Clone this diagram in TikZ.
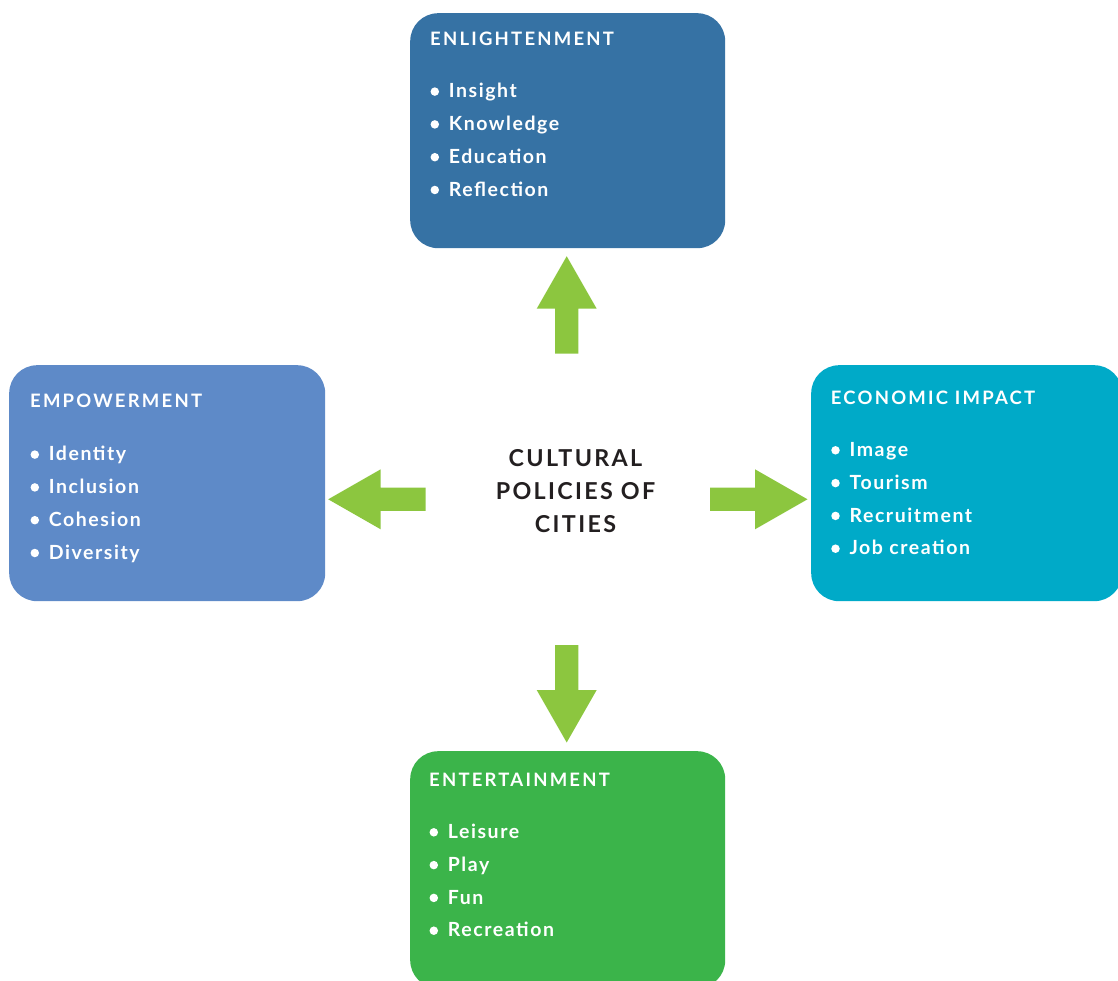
\documentclass[tikz,border=0pt]{standalone}
\usepackage{fontspec}
\setmainfont{Lato}
\newfontfamily\titlefont{Lato}[LetterSpace=12]
\newfontfamily\itemfont{Lato}[LetterSpace=8]
\newfontfamily\hubfont{Lato}[LetterSpace=10]

\definecolor{enlight}{HTML}{3672A4}
\definecolor{empower}{HTML}{5E8AC8}
\definecolor{econ}{HTML}{00AAC8}
\definecolor{entertain}{HTML}{3BB44A}
\definecolor{arrowgreen}{HTML}{8CC63F}
\definecolor{hubtext}{HTML}{231F20}

\tikzset{
  panel/.style={rectangle, rounded corners=28pt, anchor=north west, inner sep=0pt},
  head/.style={anchor=base west, inner sep=0pt, text=white,
    font=\titlefont\bfseries\fontsize{18.5}{20}\selectfont},
  entry/.style={anchor=base west, inner sep=0pt, text=white,
    font=\itemfont\bfseries\fontsize{19.5}{21}\selectfont},
  dot/.style={circle, fill=white, minimum size=8.5pt, inner sep=0pt},
  hub/.style={align=center, inner sep=0pt, text=hubtext,
    font=\hubfont\bfseries\fontsize{23.3}{33}\selectfont},
  fatarrow/.pic={
    \fill[arrowgreen] (0,-11.6) -- (45,-11.6) -- (45,-30) -- (97.5,0)
      -- (45,30) -- (45,11.6) -- (0,11.6) -- cycle;
  }
}

% one panel's heading and bullet list; #1 prefix, #2 left x, #3 heading baseline,
% #4 first item baseline, #5 heading, #6 items
\newcommand\panellist[6]{%
  \node[head] (#1-head) at (#2,#3) {#5};
  \foreach \t [count=\i from 0] in {#6} {
    \node[dot] (#1-dot-\i) at ({#2+4.8},{#4-6.2+32.8*\i}) {};
    \node[entry] (#1-item-\i) at ({#2+18.7},{#4+32.8*\i}) {\t};
  }%
}

\begin{document}
\begin{tikzpicture}[x=1pt, y=-1pt]
  \useasboundingbox (0,0) rectangle (1118,981);
  \clip (0,0) rectangle (1118,981);

  % four coloured panels
  \node[panel, fill=enlight,   minimum width=315pt, minimum height=235pt] (enl) at (410,13) {};
  \node[panel, fill=empower,   minimum width=316pt, minimum height=236pt] (emp) at (9,365) {};
  \node[panel, fill=econ,      minimum width=311pt, minimum height=236pt] (eco) at (811,365) {};
  \node[panel, fill=entertain, minimum width=315pt, minimum height=237pt] (ent) at (410,751) {};

  \panellist{enl}{430}{45.8}{97.8}{ENLIGHTENMENT}{Insight,Knowledge,Education,Reflection}
  \panellist{emp}{30}{407.5}{460.8}{EMPOWERMENT}{Identity,Inclusion,Cohesion,Diversity}
  \panellist{eco}{830.7}{404.1}{456.5}{ECONOMIC IMPACT}{Image,Tourism,Recruitment,Job creation}
  \panellist{ent}{429}{786.5}{838.5}{ENTERTAINMENT}{Leisure,Play,Fun,Recreation}

  % central label
  \node[hub] (hub) at (575.5,491.3) {CULTURAL\\POLICIES OF\\CITIES};

  % block arrows pointing outwards
  \pic[rotate=90]  (up)    at (566.7,353.7) {fatarrow};
  \pic[rotate=-90] (down)  at (566.7,645)   {fatarrow};
  \pic[rotate=180] (left)  at (425.7,499.3) {fatarrow};
  \pic              (right) at (710,499.3)   {fatarrow};
\end{tikzpicture}
\end{document}
